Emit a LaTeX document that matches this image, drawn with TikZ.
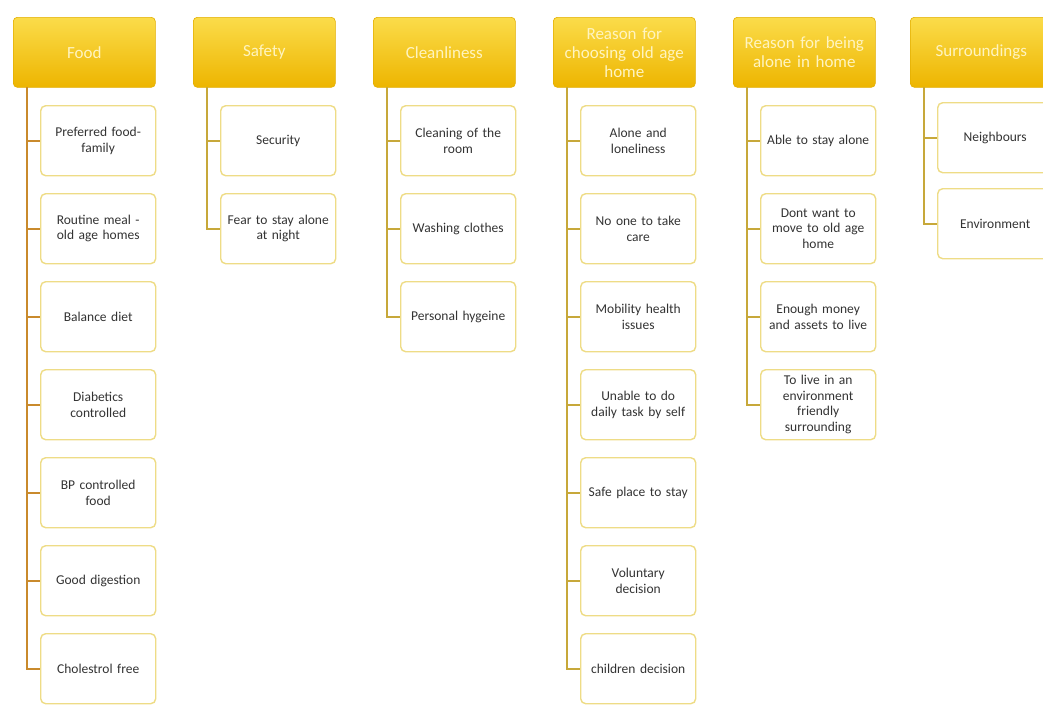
\documentclass[tikz,border=0pt]{standalone}
\usepackage{fontspec}
\setmainfont{Carlito}
\definecolor{hdtop}{HTML}{FBDC4A}
\definecolor{hdbot}{HTML}{EDB500}
\definecolor{hdline}{HTML}{E3AE00}
\definecolor{hdtext}{HTML}{FFF4C0}
\definecolor{boxline}{HTML}{EEDC86}
\definecolor{connF}{HTML}{C98A2C}
\definecolor{connO}{HTML}{C7A83A}
\definecolor{txt}{HTML}{333333}
\tikzset{
  header/.style={draw=hdline, line width=0.6pt, rounded corners=4pt,
    top color=hdtop, bottom color=hdbot,
    minimum width=142pt, minimum height=70pt, anchor=north west,
    text width=136pt, align=center, font=\fontsize{17}{19}\selectfont, text=hdtext, inner sep=2pt},
  item/.style={draw=boxline, line width=1.4pt, rounded corners=5pt, fill=white,
    minimum width=115pt, minimum height=70pt, anchor=north west,
    text width=111pt, align=center, font=\fontsize{13.5}{15.5}\selectfont, text=txt, inner sep=1pt},
  conn/.style={draw=connO, line width=1.6pt},
  connf/.style={draw=connF, line width=1.6pt},
}
\begin{document}
\begin{tikzpicture}[x=1pt,y=-1pt]
\clip (0,0) rectangle (1043,710);
\fill[white] (0,0) rectangle (1043,710);
% Food
\node[header] (fh) at (13,17) {Food};
\coordinate (ft) at (27,87);
\node[item] (f1) at (40,105) {Preferred food-\\family};
\node[item] (f2) at (40,193) {Routine meal -\\old age homes};
\node[item] (f3) at (40,281) {Balance diet};
\node[item] (f4) at (40,369) {Diabetics\\controlled};
\node[item] (f5) at (40,457) {BP controlled\\food};
\node[item] (f6) at (40,545) {Good digestion};
\node[item] (f7) at (40,633) {Cholestrol free};
\foreach \i in {1,...,7} \draw[connf] (ft) |- (f\i.west);
% Safety
\node[header] (sh) at (193,17) {Safety};
\coordinate (st) at (207,87);
\node[item] (s1) at (220,105) {Security};
\node[item] (s2) at (220,193) {Fear to stay alone\\at night};
\foreach \i in {1,2} \draw[conn] (st) |- (s\i.west);
% Cleanliness
\node[header] (ch) at (373,17) {Cleanliness};
\coordinate (ct) at (387,87);
\node[item] (c1) at (400,105) {Cleaning of the\\room};
\node[item] (c2) at (400,193) {Washing clothes};
\node[item] (c3) at (400,281) {Personal hygeine};
\foreach \i in {1,2,3} \draw[conn] (ct) |- (c\i.west);
% Reason for choosing
\node[header] (rh) at (553,17) {Reason for\\choosing old age\\home};
\coordinate (rt) at (567,87);
\node[item] (r1) at (580,105) {Alone and\\loneliness};
\node[item] (r2) at (580,193) {No one to take\\care};
\node[item] (r3) at (580,281) {Mobility health\\issues};
\node[item] (r4) at (580,369) {Unable to do\\daily task by self};
\node[item] (r5) at (580,457) {Safe place to stay};
\node[item] (r6) at (580,545) {Voluntary\\decision};
\node[item] (r7) at (580,633) {children decision};
\foreach \i in {1,...,7} \draw[conn] (rt) |- (r\i.west);
% Reason for being alone
\node[header] (ah) at (733,17) {Reason for being\\alone in home};
\coordinate (at) at (747,87);
\node[item] (a1) at (760,105) {Able to stay alone};
\node[item] (a2) at (760,193) {Dont want to\\move to old age\\home};
\node[item] (a3) at (760,281) {Enough money\\and assets to live};
\node[item] (a4) at (760,369) {To live in an\\environment\\friendly\\surrounding};
\foreach \i in {1,...,4} \draw[conn] (at) |- (a\i.west);
% Surroundings
\node[header] (uh) at (910,17) {Surroundings};
\coordinate (ut) at (924,87);
\node[item] (u1) at (937,102) {Neighbours};
\node[item] (u2) at (937,188) {Environment};
\foreach \i in {1,2} \draw[conn] (ut) |- (u\i.west);
\end{tikzpicture}
\end{document}
